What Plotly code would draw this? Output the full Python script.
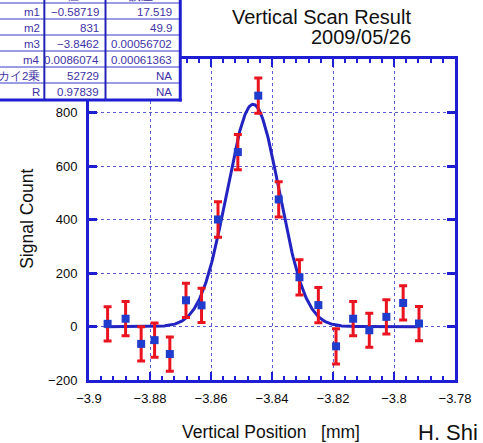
import numpy as np
import plotly.graph_objects as go

# ---- data ----
x_pos = [-3.8939, -3.8880, -3.8829, -3.8785, -3.8735, -3.8682, -3.8631, -3.8577,
         -3.8512, -3.8445, -3.8378, -3.8310, -3.8248, -3.8190, -3.8134, -3.8081,
         -3.8025, -3.7970, -3.7918]
signal = [10, 29, -65, -51, -103, 98, 79, 400, 652, 863, 475, 184, 80, -74, 29, -14, 36, 88, 11]
sig_err = [64, 64, 64, 64, 64, 64, 64, 66, 66, 66, 66, 66, 66, 66, 64, 64, 64, 64, 64]

# fit parameters (table)
param_names = ["m1", "m2", "m3", "m4", "カイ2乗", "R"]
param_vals = ["−0.58719", "831", "−3.8462", "0.0086074", "52729", "0.97839"]
param_errs = ["17.519", "49.9", "0.00056702", "0.00061363", "NA", "NA"]
header = ["", "値", "誤差"]
m1, m2, m3, m4 = -0.58719, 831.0, -3.8462, 0.0086074
fit_range = [-3.8947, -3.7915]

x_ticks = [-3.9, -3.88, -3.86, -3.84, -3.82, -3.8, -3.78]
x_tick_text = ["−3.9", "−3.88", "−3.86", "−3.84", "−3.82", "−3.8", "−3.78"]
y_ticks = [-200, 0, 200, 400, 600, 800]
y_tick_text = ["−200", "0", "200", "400", "600", "800"]

# ---- figure ----
W, H = 483, 443
L, R, T, B = 89, 17, 59, 63
PW, PH = W - L - R, H - T - B

def px(xp):
    return (xp - L) / PW

def py(yp):
    return (H - B - yp) / PH

AX = "#1e1ed2"
GRID = "#5a5ad0"

xf = np.linspace(fit_range[0], fit_range[1], 400)
yf = m1 + m2 * np.exp(-((xf - m3) ** 2) / (2 * m4 ** 2))

fig = go.Figure()
fig.add_trace(go.Scatter(x=xf, y=yf, mode="lines",
                         line=dict(color="#2323c2", width=3), hoverinfo="skip",
                         showlegend=False))
fig.add_trace(go.Scatter(x=x_pos, y=signal, mode="markers",
                         marker=dict(symbol="square", size=8, color="#1f3ccc"),
                         error_y=dict(type="data", array=sig_err, color="#ea1420",
                                      thickness=3, width=4),
                         showlegend=False))

tickfont = dict(family="Liberation Sans, Arial, sans-serif", size=13, color="#0a0a0a")
fig.update_xaxes(range=[-3.9, -3.78], tickvals=x_ticks, ticktext=x_tick_text,
                 showline=True, linecolor=AX, linewidth=3, mirror="ticks",
                 ticks="inside", ticklen=8, tickwidth=2, tickcolor=AX,
                 minor=dict(dtick=0.004, tick0=-3.9, ticks="inside", ticklen=4,
                            tickwidth=2, tickcolor=AX, showgrid=False),
                 showgrid=True, gridcolor=GRID, gridwidth=1, griddash="dot",
                 zeroline=False, tickfont=tickfont, ticklabelstandoff=4)
fig.update_yaxes(range=[-200, 1000], tickvals=y_ticks, ticktext=y_tick_text,
                 showline=True, linecolor=AX, linewidth=3, mirror="ticks",
                 ticks="inside", ticklen=8, tickwidth=3, tickcolor=AX,
                 showgrid=True, gridcolor=GRID, gridwidth=1, griddash="dot",
                 zeroline=False, tickfont=tickfont, ticklabelstandoff=6)

shapes = []
annotations = []

# table
tbl_left, tbl_right = -6, 183
row_lines = [3, 19, 35, 51, 67, 83]
col_lines = [43, 106]
row_centers = [12, 28, 44, 60, 76, 92]
TXT = "#3e32a6"
TL = "#3a3acc"
shapes.append(dict(type="rect", xref="paper", yref="paper",
                   x0=px(tbl_left), x1=px(tbl_right), y0=py(-10), y1=py(100),
                   fillcolor="white", line=dict(width=0), layer="above"))
for yl in row_lines:
    shapes.append(dict(type="line", xref="paper", yref="paper",
                       x0=px(tbl_left), x1=px(tbl_right), y0=py(yl), y1=py(yl),
                       line=dict(color=TL, width=1), layer="above"))
for xl in col_lines:
    shapes.append(dict(type="line", xref="paper", yref="paper",
                       x0=px(xl), x1=px(xl), y0=py(-10), y1=py(100),
                       line=dict(color="#2222b8", width=2), layer="above"))
shapes.append(dict(type="line", xref="paper", yref="paper",
                   x0=px(tbl_right), x1=px(tbl_right), y0=py(-10), y1=py(101.5),
                   line=dict(color=AX, width=3), layer="above"))
shapes.append(dict(type="line", xref="paper", yref="paper",
                   x0=px(tbl_left), x1=px(tbl_right + 1.5), y0=py(100), y1=py(100),
                   line=dict(color=AX, width=3), layer="above"))

tfont = dict(family="Liberation Sans, Arial, sans-serif", size=11.5, color=TXT)
col_right = [41, 101, 177]
for i, name in enumerate(param_names):
    yc = py(row_centers[i])
    for j, txt in enumerate([name, param_vals[i], param_errs[i]]):
        annotations.append(dict(xref="paper", yref="paper", x=px(col_right[j]), y=yc,
                                text=txt, showarrow=False, xanchor="right",
                                yanchor="middle", font=tfont))
for j, txt in enumerate(header):
    if txt:
        annotations.append(dict(xref="paper", yref="paper", x=px(col_right[j] - 20),
                                y=py(-4), text=txt, showarrow=False, xanchor="right",
                                yanchor="middle", font=tfont))

bigfont = dict(family="Liberation Sans, Arial, sans-serif", size=20, color="#111111")
annotations.append(dict(xref="paper", yref="paper", x=px(423), y=py(16.5),
                        text="Vertical Scan Result", showarrow=False,
                        xanchor="right", yanchor="middle", font=bigfont))
annotations.append(dict(xref="paper", yref="paper", x=px(423), y=py(37.5),
                        text="2009/05/26", showarrow=False,
                        xanchor="right", yanchor="middle", font=bigfont))
labfont = dict(family="Liberation Sans, Arial, sans-serif", size=17.5, color="#111111")
annotations.append(dict(xref="paper", yref="paper", x=px(25), y=py(219),
                        text="Signal Count", showarrow=False, textangle=-90,
                        xanchor="center", yanchor="middle", font=labfont))
annotations.append(dict(xref="paper", yref="paper", x=px(276), y=py(432),
                        text="Vertical Position\u00a0\u00a0\u00a0[mm]", showarrow=False,
                        xanchor="center", yanchor="middle", font=labfont))
annotations.append(dict(xref="paper", yref="paper", x=px(426), y=py(432),
                        text="H. Shi", showarrow=False,
                        xanchor="left", yanchor="middle",
                        font=dict(family="Liberation Sans, Arial, sans-serif",
                                  size=22, color="#111111")))

fig.update_layout(width=W, height=H, margin=dict(l=L, r=R, t=T, b=B),
                  paper_bgcolor="white", plot_bgcolor="white",
                  shapes=shapes, annotations=annotations, showlegend=False)

fig.write_html("out.html")
